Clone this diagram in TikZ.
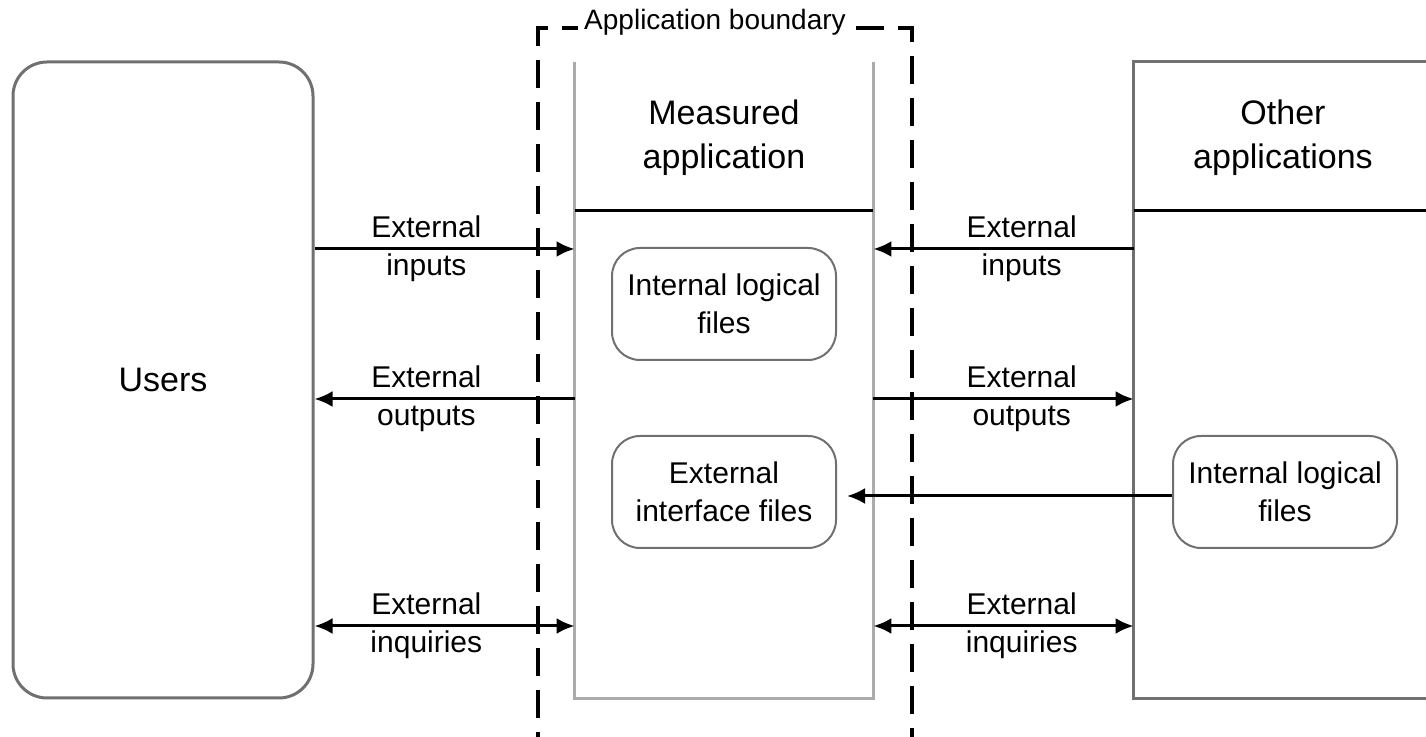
\documentclass[tikz,border=0pt]{standalone}
\usepackage{fontspec}
\setmainfont{Liberation Sans}
\usetikzlibrary{arrows.meta}

\definecolor{boxgray}{HTML}{707070}
\definecolor{appgray}{HTML}{ABABAB}

\tikzstyle{actor} = [draw=boxgray, line width=1.5pt, rounded corners=17pt, minimum width=150pt, minimum height=318pt, font=\fontsize{17}{22}\selectfont]
\tikzstyle{app} = [minimum width=149pt, minimum height=318pt, inner sep=0pt]
\tikzstyle{store} = [draw=boxgray, line width=1pt, rounded corners=14pt, minimum width=112pt, minimum height=56pt, inner sep=0pt, align=center, font=\fontsize{15}{19}\selectfont]
\tikzstyle{heading} = [align=center, font=\fontsize{17}{22}\selectfont]
\tikzstyle{tag} = [align=center, font=\fontsize{15}{19}\selectfont]
\tikzstyle{flow} = [line width=1.5pt, -{Latex[length=9pt,width=8pt]}]
\tikzstyle{flowboth} = [line width=1.5pt, {Latex[length=9pt,width=8pt]}-{Latex[length=9pt,width=8pt]}]
\tikzstyle{boundary} = [line width=1.7pt, dash pattern=on 14pt off 7pt]

\begin{document}
\begin{tikzpicture}[x=0.5pt, y=-0.5pt]
    \clip (0,0) rectangle (1426,737);
    \coordinate (rowhead) at (0,211);
    \coordinate (rowin) at (0,249);
    \coordinate (rowout) at (0,399);
    \coordinate (rowinq) at (0,626);

    \node[actor] (users) at (163,380) {Users};
    \node[app] (meas) at (724,380) {};
    \node[app, minimum width=153pt] (other) at (1287,380) {};

    \draw[appgray, line width=1.5pt] (meas.north west) -- (meas.south west) -- (meas.south east) -- (meas.north east);
    \draw[boxgray, line width=1.5pt] (other.north east) -- (other.north west) -- (other.south west) -- (other.south east);
    \draw[line width=1.5pt] (meas.west |- rowhead) -- (meas.east |- rowhead);
    \draw[line width=1.5pt] (other.west |- rowhead) -- (other.east |- rowhead);

    \node[heading] (meastitle) at (724,138) {Measured\\application};
    \node[heading] (othertitle) at (1283,138) {Other\\applications};

    \node[store] (ilf) at (724,304) {Internal logical\\files};
    \node[store] (eif) at (724,492) {External\\interface files};
    \node[store] (oilf) at (1285,492) {Internal logical\\files};

    \draw[boundary] (538,760) |- (912,28) -- (912,760);
    \node[fill=white, inner sep=3pt, font=\fontsize{14}{17}\selectfont] (bndlabel) at (715,22) {Application boundary};

    \draw[flow] (users.east |- rowin) -- node[tag, pos=0.43] {External\\inputs} (meas.west |- rowin);
    \draw[flow] (meas.west |- rowout) -- node[tag, pos=0.57] {External\\outputs} (users.east |- rowout);
    \draw[flowboth] (users.east |- rowinq) -- node[tag, pos=0.43] {External\\inquiries} (meas.west |- rowinq);
    \draw[flow] (other.west |- rowin) -- node[tag, pos=0.43] {External\\inputs} (meas.east |- rowin);
    \draw[flow] (meas.east |- rowout) -- node[tag, pos=0.57] {External\\outputs} (other.west |- rowout);
    \draw[flowboth] (meas.east |- rowinq) -- node[tag, pos=0.57] {External\\inquiries} (other.west |- rowinq);
    \draw[flow, shorten >=5pt] ([yshift=-2pt]oilf.west) -- ([yshift=-2pt]oilf.west -| eif.east);
\end{tikzpicture}
\end{document}
